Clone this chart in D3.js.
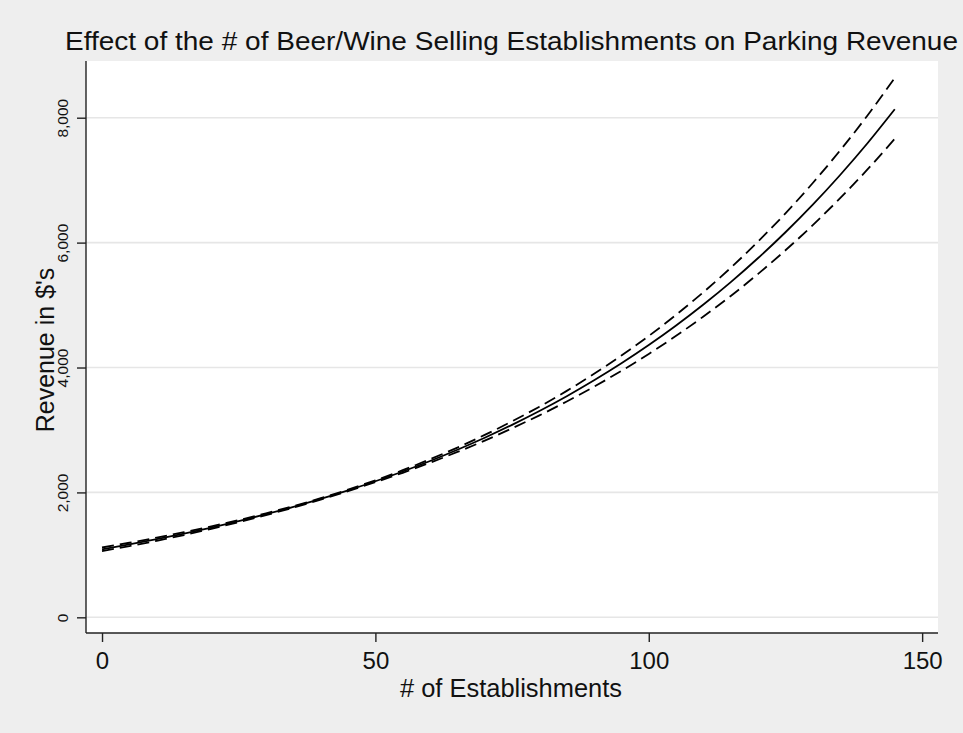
<!DOCTYPE html>
<html>
<head>
<meta charset="utf-8">
<script src="https://cdn.jsdelivr.net/npm/d3@7"></script>
<style>
  html, body { margin: 0; padding: 0; background: #eeeeee; }
  svg { display: block; }
  text { font-family: "Liberation Sans", Arial, Helvetica, sans-serif; fill: #111; }
</style>
</head>
<body>
<svg id="chart" width="963" height="733"></svg>
<script>
// Number of beer/wine selling establishments
const establishments = [0, 5, 10, 15, 20, 25, 30, 35, 40, 45, 50, 55, 60, 65, 70,
  75, 80, 85, 90, 95, 100, 105, 110, 115, 120, 125, 130, 135, 140, 145];
// Predicted parking revenue ($'s)
const predicted = [1089, 1167, 1251, 1341, 1437, 1540, 1651, 1769, 1896, 2033, 2179,
  2335, 2503, 2683, 2875, 3082, 3303, 3540, 3795, 4067, 4359, 4672, 5008, 5367,
  5753, 6166, 6608, 7083, 7591, 8136];
// Upper confidence bound
const upperBound = [1118, 1194, 1276, 1364, 1457, 1557, 1666, 1781, 1907, 2045, 2194,
  2356, 2531, 2718, 2921, 3138, 3373, 3626, 3899, 4191, 4505, 4843, 5207, 5597,
  6018, 6469, 6954, 7476, 8036, 8639];
// Lower confidence bound
const lowerBound = [1061, 1140, 1226, 1318, 1417, 1523, 1636, 1757, 1885, 2021, 2164,
  2314, 2476, 2648, 2829, 3027, 3234, 3456, 3694, 3947, 4218, 4507, 4817, 5146,
  5500, 5877, 6280, 6711, 7171, 7663];

const xTicks = [0, 50, 100, 150];
const yTicks = [0, 2000, 4000, 6000, 8000];

const titleText = "Effect of the # of Beer/Wine Selling Establishments on Parking Revenue";
const xTitle = "# of Establishments";
const yTitle = "Revenue in $'s";

const svg = d3.select("#chart");
const W = 963, H = 733;
const plot = { left: 86, right: 938, top: 61, bottom: 633 };

const x = d3.scaleLinear().domain([-2.93, 152.9]).range([plot.left, plot.right]);
const y = d3.scaleLinear().domain([-251, 8908]).range([plot.bottom, plot.top]);

// Outer background
svg.append("rect").attr("width", W).attr("height", H).attr("fill", "#eeeeee");

// Plot region
svg.append("rect")
  .attr("x", plot.left).attr("y", plot.top)
  .attr("width", plot.right - plot.left).attr("height", plot.bottom - plot.top)
  .attr("fill", "#ffffff");

// Horizontal gridlines
svg.append("g").selectAll("line").data(yTicks).join("line")
  .attr("x1", plot.left).attr("x2", plot.right)
  .attr("y1", d => y(d)).attr("y2", d => y(d))
  .attr("stroke", "#e6e6e6").attr("stroke-width", 1.6);

// Curves
const line = d3.line()
  .x((d, i) => x(establishments[i]))
  .y(d => y(d))
  .curve(d3.curveMonotoneX);

const curves = svg.append("g").attr("fill", "none").attr("stroke", "#000");
curves.append("path").attr("d", line(upperBound))
  .attr("stroke-width", 1.8).attr("stroke-dasharray", "12,6");
curves.append("path").attr("d", line(lowerBound))
  .attr("stroke-width", 1.8).attr("stroke-dasharray", "12,6");
curves.append("path").attr("d", line(predicted))
  .attr("stroke-width", 1.8);

// Y axis
const yAxis = svg.append("g")
  .attr("transform", `translate(${plot.left},0)`)
  .call(d3.axisLeft(y).tickValues(yTicks).tickSize(9).tickPadding(0).tickFormat(d3.format(",")));
yAxis.select(".domain").attr("d", `M0,${plot.top}V${plot.bottom}`).attr("stroke", "#222").attr("stroke-width", 1.4);
yAxis.selectAll(".tick line").attr("stroke", "#222").attr("stroke-width", 1.4);
yAxis.selectAll(".tick text")
  .attr("x", null).attr("dy", null)
  .attr("transform", "translate(-18,0) rotate(-90)")
  .attr("text-anchor", "middle")
  .style("font-size", "15.5px")
  .style("font-family", "'Liberation Sans', Arial, sans-serif")
  .attr("fill", "#111");

// X axis
const xAxis = svg.append("g")
  .attr("transform", `translate(0,${plot.bottom})`)
  .call(d3.axisBottom(x).tickValues(xTicks).tickSize(9).tickPadding(0).tickFormat(d3.format("d")));
xAxis.select(".domain").attr("d", `M${plot.left},0H${plot.right}`).attr("stroke", "#222").attr("stroke-width", 1.4);
xAxis.selectAll(".tick line").attr("stroke", "#222").attr("stroke-width", 1.4);
xAxis.selectAll(".tick text")
  .attr("y", 36).attr("dy", null)
  .style("font-size", "24px")
  .style("font-family", "'Liberation Sans', Arial, sans-serif")
  .attr("fill", "#111");

// Titles
svg.append("text")
  .attr("x", 511.5).attr("y", 49.5)
  .attr("text-anchor", "middle")
  .attr("textLength", 893).attr("lengthAdjust", "spacingAndGlyphs")
  .style("font-size", "25px")
  .text(titleText);

svg.append("text")
  .attr("x", 511).attr("y", 697)
  .attr("text-anchor", "middle")
  .attr("textLength", 222).attr("lengthAdjust", "spacingAndGlyphs")
  .style("font-size", "25px")
  .text(xTitle);

svg.append("text")
  .attr("transform", `translate(54,${(plot.top + plot.bottom) / 2 + 3}) rotate(-90)`)
  .attr("text-anchor", "middle")
  .style("font-size", "25px")
  .text(yTitle);
</script>
</body>
</html>
